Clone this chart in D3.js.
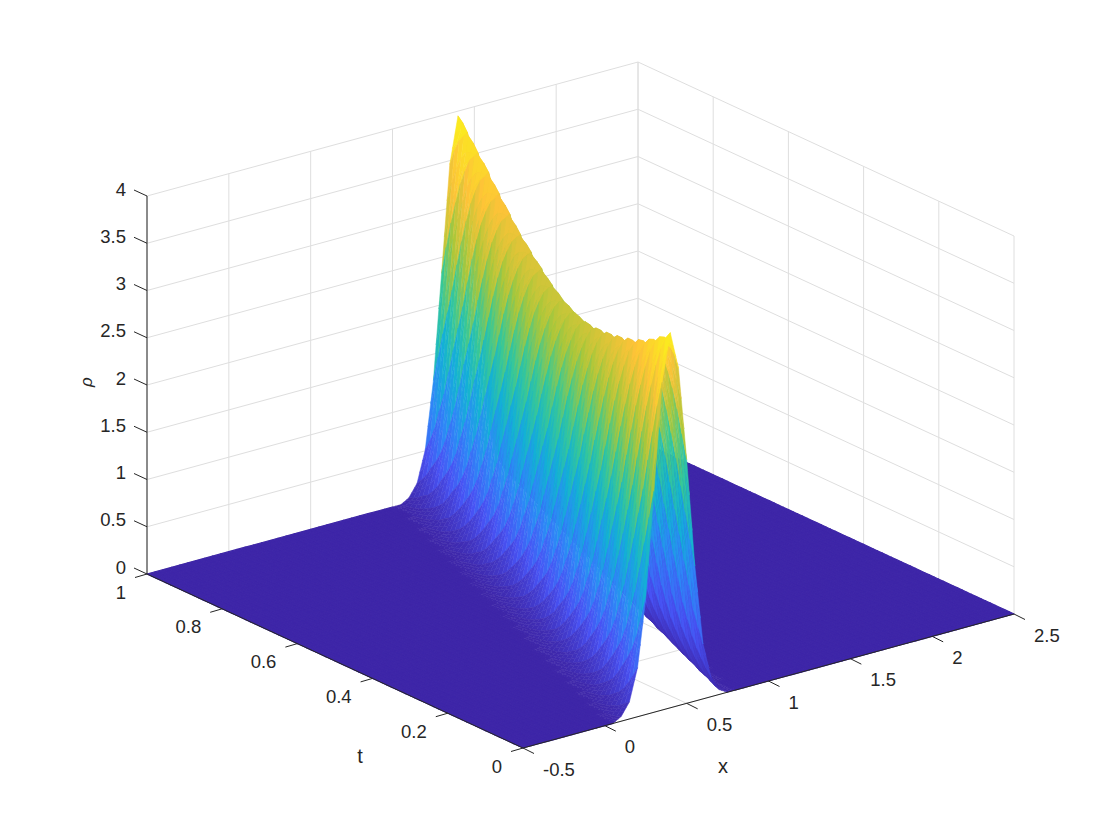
<!DOCTYPE html>
<html><head><meta charset="utf-8">
<script src="https://cdn.jsdelivr.net/npm/d3@7"></script>
<style>html,body{margin:0;background:#fff}svg{display:block}text{font-family:"Liberation Sans",Arial,sans-serif;fill:#262626}</style>
</head><body><svg id="c" width="1120" height="840"></svg>
<script>
const xGrid=[-0.5,-0.45,-0.4,-0.35,-0.3,-0.25,-0.2,-0.15,-0.1,-0.05,0,0.05,0.1,0.15,0.2,0.25,0.3,0.35,0.4,0.45,0.5,0.55,0.6,0.65,0.7,0.75,0.8,0.85,0.9,0.95,1,1.05,1.1,1.15,1.2,1.25,1.3,1.35,1.4,1.45,1.5,1.55,1.6,1.65,1.7,1.75,1.8,1.85,1.9,1.95,2,2.05,2.1,2.15,2.2,2.25,2.3,2.35,2.4,2.45,2.5];
const tGrid=[0,.0125,.025,.0375,.05,.0625,.075,.0875,.1,.1125,.125,.1375,.15,.1625,.175,.1875,.2,.2125,.225,.2375,.25,.2625,.275,.2875,.3,.3125,.325,.3375,.35,.3625,.375,.3875,.4,.4125,.425,.4375,.45,.4625,.475,.4875,.5,.5125,.525,.5375,.55,.5625,.575,.5875,.6,.6125,.625,.6375,.65,.6625,.675,.6875,.7,.7125,.725,.7375,.75,.7625,.775,.7875,.8,.8125,.825,.8375,.85,.8625,.875,.8875,.9,.9125,.925,.9375,.95,.9625,.975,.9875,1];
const bumpFirstX=[.1,.1,.1,.1,.15,.15,.15,.15,.2,.2,.2,.2,.25,.25,.25,.25,.3,.3,.3,.3,.35,.35,.35,.35,.4,.4,.4,.4,.45,.45,.45,.45,.5,.5,.5,.5,.55,.55,.55,.55,.6,.6,.6,.6,.65,.65,.65,.65,.7,.7,.7,.7,.75,.75,.75,.75,.8,.8,.8,.8,.85,.85,.85,.85,.9,.9,.9,.9,.95,.95,.95,.95,1,1,1,1,1.05,1.05,1.05,1.05,1.1];
const bumpRho=[
[.05,.18,.52,1.23,2.34,3.47,3.97,3.57,2.58,1.43,.58,.20,.05],
[.03,.14,.41,1.00,2.04,3.20,3.89,3.71,2.83,1.69,.73,.27,.07,.01],
[.02,.10,.31,.78,1.75,2.90,3.75,3.81,3.07,1.95,.89,.35,.10,.02],
[.01,.07,.23,.62,1.46,2.58,3.56,3.83,3.27,2.21,1.14,.44,.14,.03],
[.05,.17,.50,1.18,2.25,3.33,3.81,3.43,2.48,1.37,.55,.19,.05],
[.03,.13,.40,.96,1.97,3.08,3.74,3.57,2.72,1.63,.70,.26,.07,.01],
[.02,.09,.30,.75,1.68,2.79,3.61,3.67,2.95,1.87,.86,.34,.09,.02],
[.01,.07,.22,.59,1.41,2.49,3.43,3.69,3.15,2.13,1.09,.43,.13,.03],
[.04,.17,.48,1.14,2.17,3.21,3.67,3.30,2.39,1.32,.53,.18,.04],
[.03,.13,.38,.93,1.89,2.97,3.60,3.44,2.62,1.57,.67,.25,.07,.01],
[.02,.09,.29,.72,1.62,2.69,3.48,3.54,2.85,1.81,.83,.32,.09,.02],
[.01,.06,.21,.57,1.36,2.40,3.31,3.56,3.04,2.06,1.06,.41,.13,.03],
[.04,.16,.46,1.10,2.09,3.11,3.55,3.20,2.31,1.28,.51,.18,.04],
[.03,.12,.37,.90,1.83,2.87,3.48,3.33,2.53,1.51,.65,.24,.06,.01],
[.02,.09,.28,.70,1.58,2.61,3.38,3.43,2.77,1.75,.81,.32,.09,.02],
[.01,.06,.21,.56,1.32,2.32,3.21,3.45,2.95,2.00,1.02,.40,.12,.03],
[.04,.16,.45,1.07,2.04,3.02,3.45,3.11,2.24,1.24,.50,.17,.04],
[.03,.12,.36,.87,1.78,2.79,3.39,3.23,2.46,1.47,.63,.23,.06,.01],
[.02,.09,.27,.68,1.53,2.53,3.28,3.33,2.69,1.70,.78,.31,.09,.02],
[.01,.06,.20,.54,1.28,2.26,3.13,3.36,2.87,1.94,1.00,.39,.12,.03],
[.04,.15,.44,1.04,1.98,2.94,3.36,3.02,2.18,1.21,.49,.17,.04],
[.03,.12,.35,.85,1.74,2.72,3.31,3.16,2.40,1.44,.62,.23,.06,.01],
[.02,.08,.27,.66,1.49,2.47,3.20,3.25,2.62,1.66,.76,.30,.08,.02],
[.01,.06,.20,.53,1.25,2.21,3.05,3.28,2.81,1.90,.97,.38,.12,.03],
[.04,.15,.43,1.02,1.94,2.87,3.28,2.95,2.13,1.18,.48,.16,.04],
[.03,.11,.34,.83,1.70,2.66,3.23,3.08,2.35,1.40,.60,.22,.06,.01],
[.02,.08,.26,.65,1.46,2.41,3.13,3.18,2.56,1.62,.75,.29,.08,.02],
[.01,.06,.19,.52,1.23,2.16,2.99,3.21,2.75,1.86,.95,.37,.12,.03],
[.04,.14,.42,1.00,1.89,2.81,3.21,2.89,2.09,1.16,.47,.16,.04],
[.03,.11,.34,.82,1.66,2.61,3.17,3.02,2.30,1.38,.59,.22,.06,.01],
[.02,.08,.25,.64,1.43,2.37,3.07,3.12,2.51,1.59,.73,.29,.08,.02],
[.01,.06,.19,.51,1.20,2.12,2.93,3.15,2.69,1.82,.94,.36,.11,.03],
[.04,.14,.41,.98,1.86,2.77,3.16,2.84,2.05,1.14,.46,.16,.04],
[.03,.11,.33,.80,1.64,2.57,3.12,2.98,2.27,1.35,.58,.21,.06,.01],
[.02,.08,.25,.63,1.42,2.35,3.04,3.09,2.49,1.58,.72,.28,.08,.02],
[.01,.06,.19,.50,1.19,2.10,2.90,3.12,2.67,1.81,.93,.36,.11,.03],
[.04,.14,.41,.97,1.85,2.75,3.14,2.83,2.04,1.13,.46,.16,.04],
[.03,.11,.33,.80,1.63,2.56,3.11,2.97,2.26,1.35,.58,.21,.06,.01],
[.02,.08,.25,.63,1.41,2.34,3.03,3.08,2.48,1.57,.72,.28,.08,.02],
[.01,.06,.19,.50,1.19,2.10,2.90,3.12,2.67,1.81,.93,.36,.11,.03],
[.04,.14,.41,.97,1.85,2.75,3.14,2.83,2.04,1.13,.46,.16,.04],
[.03,.11,.33,.80,1.64,2.57,3.12,2.98,2.27,1.35,.58,.21,.06,.01],
[.02,.08,.25,.63,1.42,2.35,3.04,3.09,2.49,1.58,.72,.28,.08,.02],
[.01,.06,.19,.51,1.20,2.12,2.92,3.14,2.69,1.82,.93,.36,.11,.03],
[.04,.14,.41,.98,1.87,2.77,3.17,2.85,2.06,1.14,.46,.16,.04],
[.03,.11,.33,.81,1.65,2.59,3.15,3.01,2.29,1.37,.59,.22,.06,.01],
[.02,.08,.26,.64,1.44,2.38,3.08,3.13,2.52,1.60,.73,.29,.08,.02],
[.01,.06,.19,.51,1.22,2.14,2.96,3.18,2.72,1.84,.94,.37,.12,.03],
[.04,.14,.42,1.00,1.90,2.82,3.22,2.90,2.09,1.16,.47,.16,.04],
[.03,.11,.34,.82,1.68,2.63,3.20,3.05,2.33,1.39,.60,.22,.06,.01],
[.02,.08,.26,.65,1.46,2.42,3.14,3.19,2.57,1.63,.75,.29,.08,.02],
[.01,.06,.20,.52,1.24,2.18,3.02,3.24,2.77,1.87,.96,.37,.12,.03],
[.04,.15,.43,1.02,1.94,2.87,3.28,2.95,2.13,1.18,.48,.16,.04],
[.03,.12,.35,.84,1.72,2.69,3.27,3.12,2.38,1.42,.61,.22,.06,.01],
[.02,.08,.27,.66,1.49,2.47,3.20,3.25,2.62,1.66,.76,.30,.08,.02],
[.01,.06,.20,.53,1.27,2.23,3.08,3.31,2.83,1.91,.98,.38,.12,.03],
[.04,.15,.44,1.04,1.98,2.93,3.35,3.02,2.18,1.21,.49,.17,.04],
[.03,.12,.35,.86,1.75,2.75,3.34,3.18,2.43,1.45,.62,.23,.06,.01],
[.02,.08,.27,.68,1.53,2.53,3.27,3.32,2.68,1.70,.78,.31,.08,.02],
[.01,.06,.20,.55,1.30,2.28,3.15,3.39,2.90,1.96,1.01,.39,.12,.03],
[.04,.15,.45,1.07,2.03,3.01,3.44,3.10,2.24,1.24,.50,.17,.04],
[.03,.12,.36,.88,1.80,2.82,3.43,3.27,2.49,1.49,.64,.24,.06,.01],
[.02,.09,.28,.70,1.57,2.60,3.37,3.42,2.76,1.75,.80,.31,.09,.02],
[.01,.06,.21,.56,1.33,2.35,3.25,3.49,2.98,2.02,1.04,.40,.13,.03],
[.04,.16,.46,1.10,2.09,3.10,3.54,3.19,2.30,1.27,.51,.18,.04],
[.03,.12,.37,.91,1.85,2.90,3.52,3.36,2.56,1.53,.66,.24,.06,.01],
[.02,.09,.29,.72,1.62,2.67,3.46,3.52,2.84,1.80,.83,.32,.09,.02],
[.01,.06,.22,.58,1.37,2.42,3.34,3.59,3.07,2.08,1.06,.42,.13,.03],
[.04,.16,.47,1.13,2.15,3.19,3.64,3.28,2.37,1.31,.53,.18,.04],
[.03,.13,.39,.94,1.91,2.99,3.63,3.47,2.64,1.58,.68,.25,.07,.01],
[.02,.09,.30,.74,1.67,2.76,3.57,3.63,2.92,1.85,.85,.33,.09,.02],
[.01,.07,.22,.60,1.41,2.49,3.44,3.70,3.16,2.14,1.10,.43,.13,.03],
[.05,.17,.49,1.16,2.21,3.28,3.75,3.38,2.44,1.35,.54,.19,.05],
[.03,.13,.40,.96,1.96,3.07,3.73,3.56,2.71,1.62,.70,.26,.07,.01],
[.02,.10,.30,.76,1.71,2.83,3.67,3.72,3.00,1.90,.87,.34,.10,.02],
[.01,.07,.23,.61,1.45,2.56,3.53,3.80,3.25,2.20,1.13,.44,.14,.03],
[.05,.17,.50,1.19,2.27,3.37,3.85,3.47,2.50,1.39,.56,.19,.05],
[.03,.14,.41,.99,2.01,3.15,3.83,3.66,2.79,1.66,.72,.26,.07,.01],
[.02,.10,.31,.78,1.76,2.91,3.76,3.82,3.08,1.95,.90,.35,.10,.02],
[.01,.07,.24,.63,1.49,2.63,3.63,3.90,3.33,2.25,1.16,.45,.14,.03],
[.05,.18,.51,1.22,2.33,3.46,3.95,3.56,2.57,1.42,.57,.20,.05]
];
const xTicks=[-0.5,0,0.5,1,1.5,2,2.5], tTicks=[0,0.2,0.4,0.6,0.8,1], zTicks=[0,0.5,1,1.5,2,2.5,3,3.5,4];
const xTickLabels=["-0.5","0","0.5","1","1.5","2","2.5"], tTickLabels=["0","0.2","0.4","0.6","0.8","1"], zTickLabels=["0","0.5","1","1.5","2","2.5","3","3.5","4"];
const parula=["rgb(62,38,168)","rgb(72,82,244)","rgb(46,135,247)","rgb(18,177,214)","rgb(55,200,151)","rgb(171,199,57)","rgb(254,195,56)","rgb(249,251,21)"];
const stripeShade=[0.4,0.55,0.7];

const xPx=d3.scaleLinear([-0.5,2.5],[0,491]), xPy=d3.scaleLinear([-0.5,2.5],[0,-134]);
const tPx=d3.scaleLinear([0,1],[0,-376]), tPy=d3.scaleLinear([0,1],[0,-174]);
const zPy=d3.scaleLinear([0,4],[0,-378]);
const ox=523, oy=748;
const P=(x,t,z)=>[ox+xPx(x)+tPx(t), oy+xPy(x)+tPy(t)+zPy(z)];
const color=d3.scaleLinear().domain(parula.map((_,i)=>i/(parula.length-1)*4)).range(parula).clamp(true);

const rho=tGrid.map((_,r)=>{
  const row=xGrid.map(()=>0), s=Math.round((bumpFirstX[r]+0.5)/0.05);
  bumpRho[r].forEach((v,k)=>row[s+k]=v);
  return row;
});

const svg=d3.select("#c");
const G="#dedede", A="#262626";
const ln=(g,a,b,c,w)=>g.append("line").attr("x1",a[0]).attr("y1",a[1]).attr("x2",b[0]).attr("y2",b[1]).attr("stroke",c).attr("stroke-width",w);
const grid=svg.append("g");
const zMax=4,xMax=2.5,xMin=-0.5,tMax=1;
zTicks.forEach(z=>{ ln(grid,P(xMin,tMax,z),P(xMax,tMax,z),G,1); ln(grid,P(xMax,tMax,z),P(xMax,0,z),G,1); });
xTicks.forEach(x=>{ ln(grid,P(x,tMax,0),P(x,tMax,zMax),G,1); ln(grid,P(x,0,0),P(x,tMax,0),G,1); });
tTicks.forEach(t=>{ ln(grid,P(xMax,t,0),P(xMax,t,zMax),G,1); ln(grid,P(xMin,t,0),P(xMax,t,0),G,1); });

const surf=svg.append("g");
const poly=(pts,c,w)=>surf.append("polygon").attr("points",pts.map(p=>p[0].toFixed(2)+","+p[1].toFixed(2)).join(" ")).attr("fill",c).attr("stroke",c).attr("stroke-width",w).attr("stroke-linejoin","round");
for(let r=tGrid.length-2;r>=0;r--){
  const t0=tGrid[r],t1=tGrid[r+1];
  for(let j=xGrid.length-2;j>=0;j--){
    const x0=xGrid[j],x1=xGrid[j+1];
    const a=rho[r][j],b=rho[r][j+1],c=rho[r+1][j+1],d=rho[r+1][j];
    if(Math.max(a,b,c,d)===0){ poly([P(x0,t0,0),P(x1,t0,0),P(x1,t1,0),P(x0,t1,0)],color(0),1.2); continue; }
    const n=stripeShade.length;
    for(let k=n-1;k>=0;k--){
      const u0=k/n,u1=(k+1)/n,xl=d3.interpolateNumber(x0,x1);
      const zb=u=>a+(b-a)*u, zf=u=>d+(c-d)*u, w=stripeShade[k];
      poly([P(xl(u0),t0,zb(u0)),P(xl(u1),t0,zb(u1)),P(xl(u1),t1,zf(u1)),P(xl(u0),t1,zf(u0))],color(zb(w)),0.5);
    }
  }
}

const ax=svg.append("g");
ln(ax,P(xMin,0,0),P(xMax,0,0),A,1);
ln(ax,P(xMin,0,0),P(xMin,tMax,0),A,1);
ln(ax,P(xMin,tMax,0),P(xMin,tMax,zMax),A,1);
const txt=(x,y,s,anchor,size)=>ax.append("text").attr("x",x).attr("y",y).attr("text-anchor",anchor).attr("dominant-baseline","central").attr("font-size",size).text(s);
xTicks.forEach((x,i)=>{const p=P(x,0,0); ln(ax,p,[p[0]+11,p[1]+5.5],A,1); txt(p[0]+20,p[1]+21,xTickLabels[i],"start",18.5);});
tTicks.forEach((t,i)=>{const p=P(xMin,t,0); ln(ax,p,[p[0]-12,p[1]+3.5],A,1); txt(p[0]-21,p[1]+18,tTickLabels[i],"end",18.5);});
zTicks.forEach((z,i)=>{const p=P(xMin,tMax,z); ln(ax,p,[p[0]-13,p[1]-6],A,1); txt(p[0]-21,p[1]-7,zTickLabels[i],"end",18.5);});
txt(723,766,"x","middle",20);
txt(360,756,"t","middle",20);
ax.append("text").attr("transform","translate(86,382) rotate(-90)").attr("text-anchor","middle").attr("dominant-baseline","central").attr("font-size",17).attr("font-style","italic").attr("font-family","'DejaVu Serif',serif").text("ρ");
</script></body></html>
